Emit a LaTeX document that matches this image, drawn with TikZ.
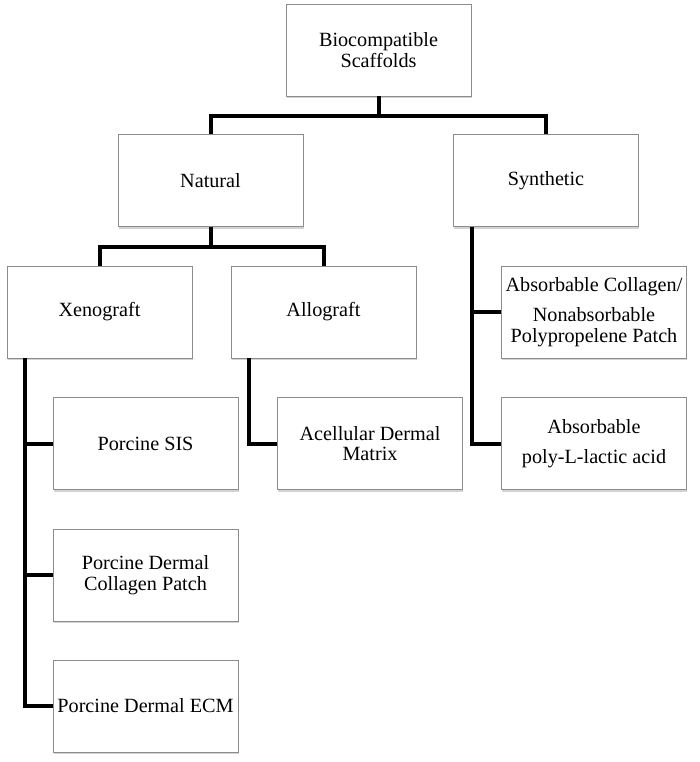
\documentclass[tikz,border=0pt]{standalone}
\usepackage{fontspec}
\setmainfont{Liberation Serif}
\usetikzlibrary{shadows}
\begin{document}
\begin{tikzpicture}[x=1pt,y=-1pt,
  box/.style={draw=black!45, line width=0.9pt, fill=white,
    minimum width=185pt, minimum height=92pt, inner sep=0pt,
    align=center, font=\fontsize{20.2}{20.8}\selectfont,
    drop shadow={shadow xshift=0.8pt, shadow yshift=-2pt, opacity=0.35, fill=black!50}},
  conn/.style={line width=4pt, black, line join=miter}]
\useasboundingbox (0,0) rectangle (700,762);
% boxes
\node[box] (root) at (378.5,50) {Biocompatible\\Scaffolds};
\node[box] (nat)  at (210.5,180.5) {Natural};
\node[box] (syn)  at (546,180.5) {Synthetic};
\node[box] (xeno) at (99.5,312) {Xenograft};
\node[box] (allo) at (323.5,312) {Allograft};
\node[box] (absc) at (594,312) {Absorbable Collagen/\\[9pt]Nonabsorbable\\Polypropelene Patch};
\node[box] (sis)  at (145.5,443.5) {Porcine SIS};
\node[box] (acel) at (370,443.5) {Acellular Dermal\\Matrix};
\node[box] (plla) at (594,443.5) {Absorbable\\[9pt]poly-L-lactic acid};
\node[box] (coll) at (145.5,575) {Porcine Dermal\\Collagen Patch};
\node[box] (ecm)  at (145.5,706) {Porcine Dermal ECM};
% junction coordinates
\coordinate (j1) at (378.5,116);
\coordinate (j2) at (210.5,247);
\coordinate (xt) at (25,358);
\coordinate (at) at (249,358);
\coordinate (st) at (472,226.5);
% connectors
\draw[conn] (root.south) -- (j1) -| (nat.north);
\draw[conn] (j1) -| (syn.north);
\draw[conn] (nat.south) -- (j2) -| (xeno.north);
\draw[conn] (j2) -| (allo.north);
\draw[conn] (xt) |- (ecm.west);
\draw[conn] (xt) |- (sis.west);
\draw[conn] (xt) |- (coll.west);
\draw[conn] (at) |- (acel.west);
\draw[conn] (st) |- (plla.west);
\draw[conn] (st) |- (absc.west);
\end{tikzpicture}
\end{document}
